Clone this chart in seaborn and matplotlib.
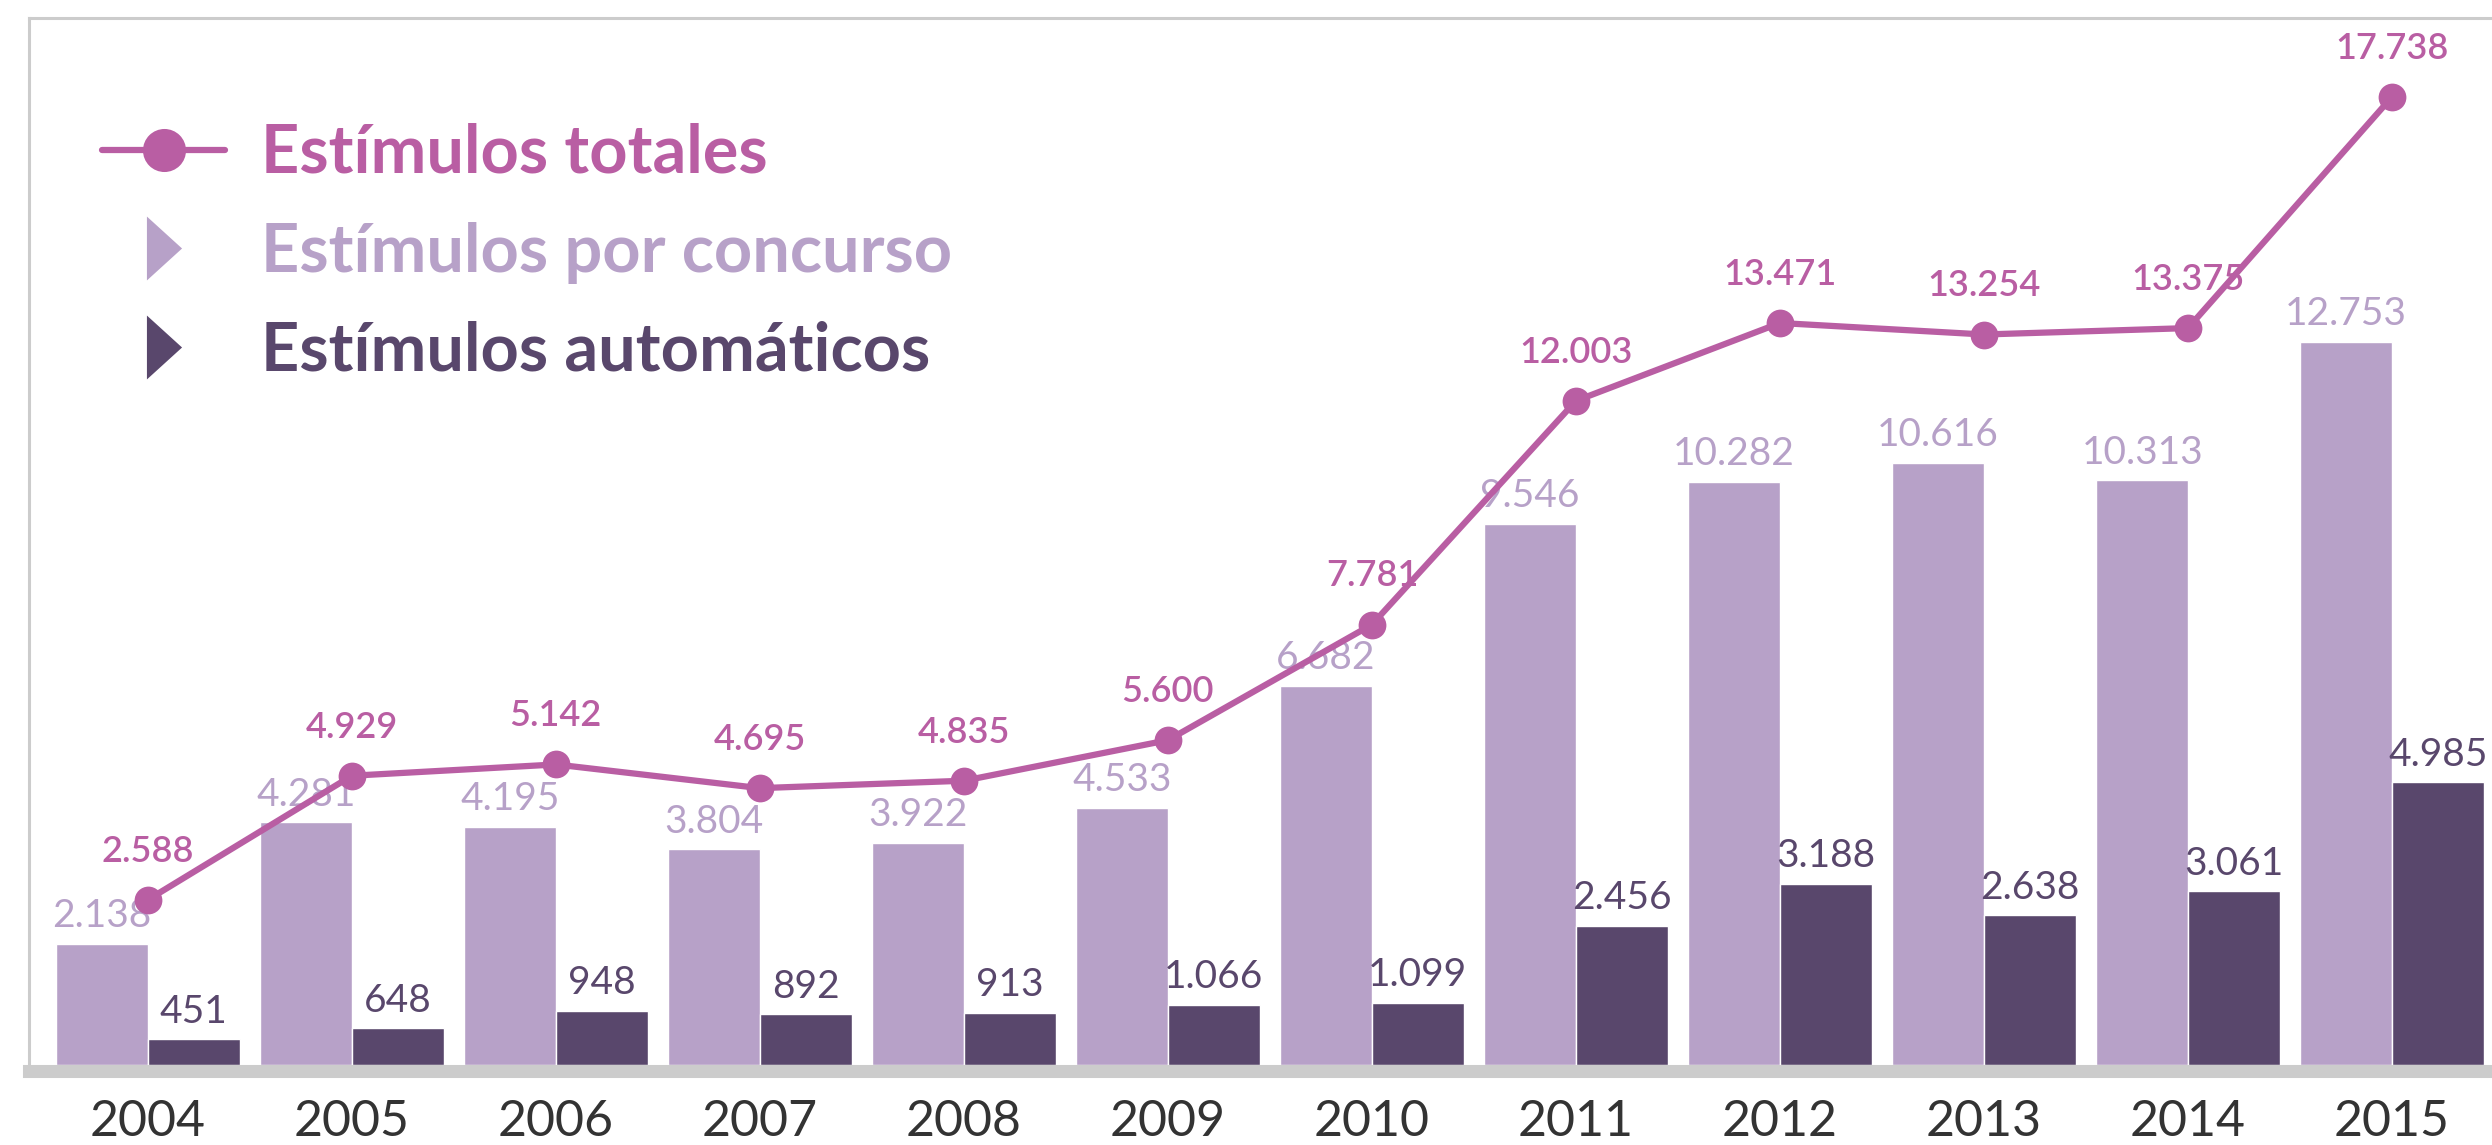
import pandas as pd
import matplotlib.pyplot as plt
import seaborn as sns
from matplotlib.lines import Line2D

# -----------------------------
# Data
# -----------------------------
years = ['2004', '2005', '2006', '2007', '2008', '2009',
         '2010', '2011', '2012', '2013', '2014', '2015']
por_concurso = [2138, 4281, 4195, 3804, 3922, 4533, 6682, 9546, 10282, 10616, 10313, 12753]
automaticos = [451, 648, 948, 892, 913, 1066, 1099, 2456, 3188, 2638, 3061, 4985]
totales = [2588, 4929, 5142, 4695, 4835, 5600, 7781, 12003, 13471, 13254, 13375, 17738]

lbl_total = 'Estímulos totales'
lbl_conc = 'Estímulos por concurso'
lbl_auto = 'Estímulos automáticos'

# colours
pink = '#b95ea3'
light = '#b7a1c8'
dark = '#59476c'
border = '#cccccc'
year_col = '#333333'


def fmt(v):
    return f'{v:,}'.replace(',', '.')


# -----------------------------
# Style
# -----------------------------
sns.set_style('white')
plt.rcParams['font.family'] = ['Lato', 'DejaVu Sans']

fig = plt.figure(figsize=(24.92, 11.45), dpi=100)
ax = fig.add_axes([0.0116, 0.0699, 0.9884, 0.9144])

# -----------------------------
# Bars
# -----------------------------
df = pd.DataFrame({
    'year': years * 2,
    'tipo': [lbl_conc] * len(years) + [lbl_auto] * len(years),
    'valor': por_concurso + automaticos,
})
sns.barplot(data=df, x='year', y='valor', hue='tipo', hue_order=[lbl_conc, lbl_auto],
            palette=[light, dark], width=0.9, saturation=1, legend=False, ax=ax)

for cont, vals, col in zip(ax.containers, [por_concurso, automaticos], [light, dark]):
    ax.bar_label(cont, labels=[fmt(v) for v in vals], padding=7, color=col,
                 fontsize=28, fontweight='normal')

ax.set_ylim(0, 18466)
ax.set_xlim(-0.583, 11.49)
ax.set_xlabel('')
ax.set_ylabel('')
ax.set_yticks([])
ax.tick_params(axis='x', length=0, pad=20, labelsize=36, labelcolor=year_col)

for s in ['top', 'left']:
    ax.spines[s].set_color(border)
    ax.spines[s].set_linewidth(2.2)
ax.spines['right'].set_visible(False)
ax.spines['bottom'].set_color(border)
ax.spines['bottom'].set_linewidth(9.4)
ax.spines['bottom'].set_position(('outward', 4.7))

# -----------------------------
# Line (totals) on its own axis
# -----------------------------
ax2 = ax.twinx()
sns.pointplot(x=years, y=totales, color=pink, markers='o', errorbar=None,
              markersize=20, markeredgewidth=0, linewidth=4.5, ax=ax2)
ax2.set_ylim(-528, 19226)
ax2.set_xlim(-0.583, 11.49)
ax2.set_yticks([])
ax2.set_ylabel('')
for s in ax2.spines.values():
    s.set_visible(False)

for i, v in enumerate(totales):
    ax2.annotate(fmt(v), (i, v), xytext=(0, 35), textcoords='offset points',
                 ha='center', va='center', color=pink, fontsize=26, fontweight='semibold')

# -----------------------------
# Legend
# -----------------------------
tri = [(-0.55, -1), (0.55, 0), (-0.55, 1), (-0.55, -1)]
handles = [
    Line2D([], [], color=pink, lw=4.5, marker='o', markersize=31, markeredgewidth=0),
    Line2D([], [], ls='none', marker=tri, markersize=46, color=light, markeredgewidth=0),
    Line2D([], [], ls='none', marker=tri, markersize=46, color=dark, markeredgewidth=0),
]
ax2.legend(handles, [lbl_total, lbl_conc, lbl_auto], loc='upper left',
           bbox_to_anchor=(0.041, 0.8926), bbox_transform=fig.transFigure,
           frameon=False, prop={'size': 48, 'weight': 'bold'},
           handlelength=1.84, handletextpad=0.54, labelspacing=0.55,
           borderpad=0, borderaxespad=0, labelcolor=[pink, light, dark])

fig.savefig('out.png', dpi=100)
